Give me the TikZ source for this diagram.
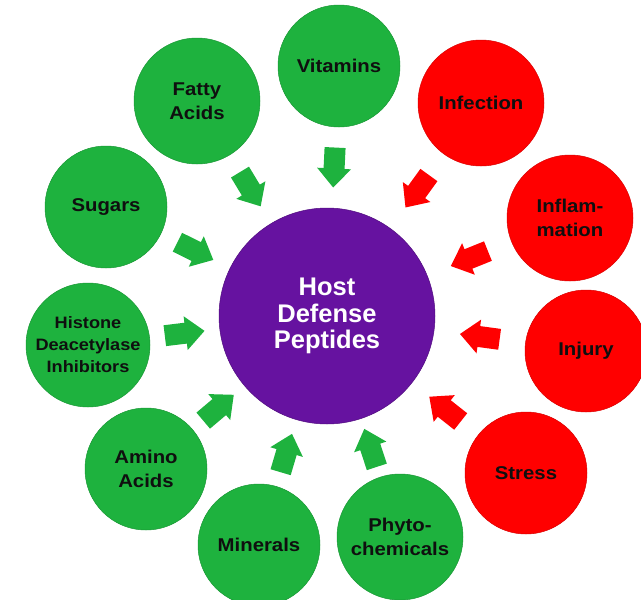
\documentclass[tikz,border=0pt]{standalone}
\usepackage{fontspec}
\setmainfont{Liberation Sans}
\newfontfamily\labfont{Liberation Sans}[FakeStretch=1.1]
\usetikzlibrary{decorations.markings}
\definecolor{cgreen}{RGB}{30,178,62}
\definecolor{cred}{RGB}{255,0,0}
\definecolor{cpurple}{RGB}{102,18,160}
\definecolor{ctext}{RGB}{15,15,15}
\tikzset{
  bub/.style={circle, inner sep=0pt, align=center, text=ctext,
    font=\labfont\bfseries\fontsize{18.5}{24}\selectfont},
  gbub/.style={bub, fill=cgreen, draw=cgreen!85!black, line width=0.5pt},
  rbub/.style={bub, fill=cred, draw=cred!85!black, line width=0.5pt},
  small/.style={font=\labfont\bfseries\fontsize{16.5}{22}\selectfont},
  hub/.style={circle, fill=cpurple, draw=cpurple!80!black, line width=0.5pt,
    minimum size=216pt, inner sep=0pt, align=center, text=white,
    font=\bfseries\fontsize{25.5}{26.5}\selectfont},
  blk/.style={postaction={decorate}, decoration={markings,
    mark=at position 0.5 with {\fill[#1] (-20pt,-10.5pt) -- (1pt,-10.5pt) -- (1pt,-17pt)
      -- (20pt,0pt) -- (1pt,17pt) -- (1pt,10.5pt) -- (-20pt,10.5pt) -- cycle;}}},
}
\begin{document}
\begin{tikzpicture}[x=1pt,y=1pt]
\useasboundingbox (0,0) rectangle (641,-600);
\node[hub] (hub) at (327,-316) {Host\\Defense\\Peptides};
\node[gbub, minimum size=122pt] (vit) at (339,-66) {Vitamins};
\node[rbub, minimum size=126pt] (inf) at (481,-103) {Infection};
\node[rbub, minimum size=126pt] (infl) at (570,-218) {Inflam-\\mation};
\node[rbub, minimum size=122pt] (inj) at (586,-351) {Injury};
\node[rbub, minimum size=122pt] (str) at (526,-473) {Stress};
\node[gbub, minimum size=126pt] (phy) at (400,-537) {Phyto-\\chemicals};
\node[gbub, minimum size=122pt] (min) at (259,-545) {Minerals};
\node[gbub, minimum size=122pt] (ami) at (146,-469) {Amino\\Acids};
\node[gbub, small, minimum size=124pt] (his) at (88,-345) {Histone\\Deacetylase\\Inhibitors};
\node[gbub, minimum size=122pt] (sug) at (106,-207) {Sugars};
\node[gbub, minimum size=126pt] (fat) at (197,-101) {Fatty\\Acids};
\path[blk=cgreen] (vit) -- (hub);
\path[blk=cred] (inf) -- (hub);
\path[blk=cred] (infl) -- (hub);
\path[blk=cred] (inj) -- (hub);
\path[blk=cred] (str) -- (hub);
\path[blk=cgreen] (phy) -- (hub);
\path[blk=cgreen] (min) -- (hub);
\path[blk=cgreen] (ami) -- (hub);
\path[blk=cgreen] (his) -- (hub);
\path[blk=cgreen] (sug) -- (hub);
\path[blk=cgreen] (fat) -- (hub);
\end{tikzpicture}
\end{document}
